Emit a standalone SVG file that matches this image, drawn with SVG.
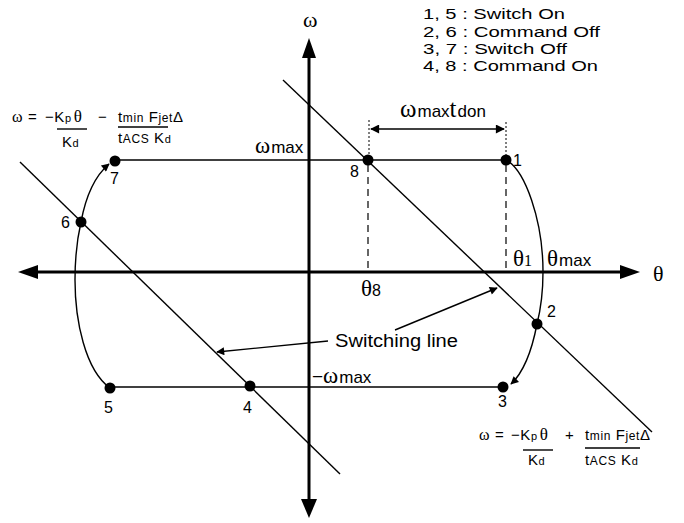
<svg xmlns="http://www.w3.org/2000/svg" width="684" height="523" viewBox="0 0 684 523">
<style>
.t{font-family:"Liberation Sans",Arial,sans-serif;fill:#000}
.g{font-family:"Liberation Serif","Times New Roman",serif;fill:#000}
.ln{stroke:#000;stroke-width:1.4;fill:none}
.ax{stroke:#000;stroke-width:3;fill:none}
.dash{stroke:#000;stroke-width:1.2;stroke-dasharray:7,5;fill:none}
.dot{stroke:#000;stroke-width:1;stroke-dasharray:2,2;fill:none}
.pt{fill:#000}
.f{letter-spacing:0.6px}
</style>
<defs>
<marker id="ah" viewBox="0 0 10 10" refX="9" refY="5" markerWidth="10" markerHeight="8" markerUnits="userSpaceOnUse" orient="auto">
<path d="M0,0 L10,5 L0,10 z" fill="#000"/>
</marker>
<marker id="ahs" viewBox="0 0 10 10" refX="9" refY="5" markerWidth="11" markerHeight="9" markerUnits="userSpaceOnUse" orient="auto-start-reverse">
<path d="M0,0 L10,5 L0,10 z" fill="#000"/>
</marker>
</defs>

<g id="axes">
<line class="ax" x1="309" y1="56" x2="309" y2="502"/>
<polygon points="309,38 302,58 316,58"/>
<polygon points="309,518 301,499 317,499"/>
<line class="ax" x1="34" y1="272" x2="624" y2="272"/>
<polygon points="18,272 38,265 38,279"/>
<polygon points="640,272 620,265 620,279"/>
<text class="g" x="303" y="27" font-size="22">ω</text>
<text class="g" x="653" y="281" font-size="22">θ</text>
</g>

<g id="connectors">
<line class="ln" x1="116" y1="160" x2="506" y2="160"/>
<line class="ln" x1="110" y1="387" x2="503" y2="387"/>
<line class="ln" x1="283" y1="80" x2="652" y2="432"/>
<line class="ln" x1="20" y1="162" x2="340" y2="474"/>
<path class="ln" d="M506,160 C525,170 543,220 543,272 C543,295 540,312 537,324 C532,350 524,372 511,384" marker-end="url(#ah)"/>
<path class="ln" d="M110,388 C85,370 75,320 75,280 C75,250 78,235 81,222 C86,195 96,175 109,164" marker-end="url(#ah)"/>
<line class="dash" x1="368" y1="165" x2="368" y2="272"/>
<line class="dash" x1="506" y1="165" x2="506" y2="272"/>
<line class="dot" x1="369" y1="120" x2="369" y2="156"/>
<line class="dot" x1="506" y1="122" x2="506" y2="156"/>
<line class="ln" x1="371" y1="129" x2="504" y2="129" marker-start="url(#ahs)" marker-end="url(#ahs)"/>
<line class="ln" x1="328" y1="341" x2="217" y2="352" marker-end="url(#ah)"/>
<line class="ln" x1="395" y1="330" x2="497" y2="288" marker-end="url(#ah)"/>
</g>

<g id="n1"><circle class="pt" cx="506" cy="160" r="5.5"/><text class="t" x="513" y="166" font-size="16">1</text></g>
<g id="n2"><circle class="pt" cx="537" cy="324" r="5.5"/><text class="t" x="547" y="317" font-size="16">2</text></g>
<g id="n3"><circle class="pt" cx="503" cy="387" r="5.5"/><text class="t" x="498" y="407" font-size="16">3</text></g>
<g id="n4"><circle class="pt" cx="250" cy="386" r="5.5"/><text class="t" x="243" y="413" font-size="16">4</text></g>
<g id="n5"><circle class="pt" cx="110" cy="388" r="5.5"/><text class="t" x="104" y="413" font-size="16">5</text></g>
<g id="n6"><circle class="pt" cx="81" cy="222" r="5.5"/><text class="t" x="61" y="228" font-size="16">6</text></g>
<g id="n7"><circle class="pt" cx="115" cy="161" r="5.5"/><text class="t" x="110" y="184" font-size="16">7</text></g>
<g id="n8"><circle class="pt" cx="368" cy="160" r="5.5"/><text class="t" x="350" y="177" font-size="16">8</text></g>

<g id="labels">
<text x="400" y="117"><tspan class="g" font-size="25">ω</tspan><tspan class="t" font-size="17" dx="1">max</tspan><tspan class="g" font-size="25">t</tspan><tspan class="t" font-size="17" dx="1">don</tspan></text>
<text x="255" y="153"><tspan class="g" font-size="23">ω</tspan><tspan class="t" font-size="17" dx="1">max</tspan></text>
<text x="312" y="383"><tspan class="t" font-size="19">−</tspan><tspan class="g" font-size="23">ω</tspan><tspan class="t" font-size="17" dx="1">max</tspan></text>
<text x="361" y="296"><tspan class="g" font-size="23">θ</tspan><tspan class="t" font-size="16">8</tspan></text>
<text x="513" y="266"><tspan class="g" font-size="23">θ</tspan><tspan class="g" font-size="16">1</tspan></text>
<text x="547" y="266"><tspan class="g" font-size="23">θ</tspan><tspan class="t" font-size="17" dx="1">max</tspan></text>
<text class="t" x="335" y="347" font-size="18" textLength="123" lengthAdjust="spacingAndGlyphs">Switching line</text>
</g>

<g id="legend" class="t" font-size="15.5">
<text x="423" y="19" textLength="142" lengthAdjust="spacingAndGlyphs">1, 5 : Switch On</text>
<text x="423" y="37" textLength="177" lengthAdjust="spacingAndGlyphs">2, 6 : Command Off</text>
<text x="423" y="54" textLength="144" lengthAdjust="spacingAndGlyphs">3, 7 : Switch Off</text>
<text x="423" y="71" textLength="175" lengthAdjust="spacingAndGlyphs">4, 8 : Command On</text>
</g>

<g id="formula1">
<text class="f" x="12" y="122"><tspan class="g" font-size="16">ω</tspan><tspan class="t" font-size="15"> = </tspan><tspan class="t" font-size="15" x="45">−K</tspan><tspan class="t" font-size="11">p</tspan><tspan class="g" font-size="17" dx="2">θ</tspan><tspan class="t" font-size="15" x="98">−</tspan><tspan class="t" font-size="15" x="118">t</tspan><tspan class="t" font-size="12">min</tspan><tspan class="t" font-size="15"> F</tspan><tspan class="t" font-size="12">jet</tspan><tspan class="t" font-size="15">Δ</tspan></text>
<line class="ln" x1="57" y1="129" x2="87" y2="129" stroke-width="1.2"/>
<line class="ln" x1="118" y1="127" x2="168" y2="127" stroke-width="1.2"/>
<text class="f" x="62" y="147"><tspan class="t" font-size="15">K</tspan><tspan class="t" font-size="11">d</tspan></text>
<text class="f" x="118" y="143"><tspan class="t" font-size="15">t</tspan><tspan class="t" font-size="12">ACS</tspan><tspan class="t" font-size="15"> K</tspan><tspan class="t" font-size="11">d</tspan></text>
</g>

<g id="formula2">
<text class="f" x="479" y="440"><tspan class="g" font-size="16">ω</tspan><tspan class="t" font-size="15"> = </tspan><tspan class="t" font-size="15" x="511">−K</tspan><tspan class="t" font-size="11">p</tspan><tspan class="g" font-size="17" dx="2">θ</tspan><tspan class="t" font-size="15" x="565">+</tspan><tspan class="t" font-size="15" x="585">t</tspan><tspan class="t" font-size="12">min</tspan><tspan class="t" font-size="15"> F</tspan><tspan class="t" font-size="12">jet</tspan><tspan class="t" font-size="15">Δ</tspan></text>
<line class="ln" x1="523" y1="450" x2="553" y2="450" stroke-width="1.2"/>
<line class="ln" x1="585" y1="448" x2="640" y2="448" stroke-width="1.2"/>
<text class="f" x="528" y="465"><tspan class="t" font-size="15">K</tspan><tspan class="t" font-size="11">d</tspan></text>
<text class="f" x="585" y="465"><tspan class="t" font-size="15">t</tspan><tspan class="t" font-size="12">ACS</tspan><tspan class="t" font-size="15"> K</tspan><tspan class="t" font-size="11">d</tspan></text>
</g>
</svg>
